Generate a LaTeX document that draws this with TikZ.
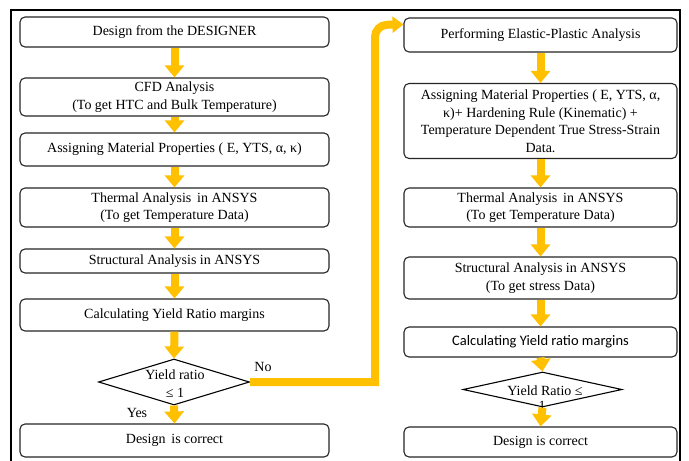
\documentclass[tikz,border=0pt]{standalone}
\usepackage{fontspec}
\setmainfont{Liberation Serif}
\newfontfamily\carlito{Carlito}
\usetikzlibrary{arrows.meta,shapes.geometric}
\definecolor{amber}{HTML}{FFC000}
\begin{document}
\begin{tikzpicture}[x=1pt,y=-1pt,
  box/.style={draw=black!85, line width=1.1pt, rounded corners=5pt, align=center,
    inner sep=0pt, font=\fontsize{14}{17.5}\selectfont},
  dec/.style={draw=black, line width=1.1pt, diamond, inner sep=0pt},
  flow/.style={amber, line width=8pt, -{Triangle[width=19pt,length=12pt]}},
  lbl/.style={inner sep=0pt, font=\fontsize{14}{17.5}\selectfont}]
\useasboundingbox (0,0) rectangle (689,461);
\fill[white] (0,0) rectangle (689,461);
\draw[line width=2pt] (11,461) -- (11,10) -- (680,10) -- (680,461);

% left column
\node[box, minimum width=309pt, minimum height=30pt] (L1) at (174.5,32) {Design from the DESIGNER};
\node[box, minimum width=309pt, minimum height=38pt] (L2) at (174.5,97) {CFD Analysis\\(To get HTC and Bulk Temperature)};
\node[box, minimum width=309pt, minimum height=33pt] (L3) at (174.5,149.5) {Assigning Material Properties ( E, YTS, α, κ)};
\node[box, minimum width=309pt, minimum height=39pt] (L4) at (174.5,207.5) {Thermal Analysis\, in ANSYS\\(To get Temperature Data)};
\node[box, minimum width=309pt, minimum height=24pt] (L5) at (174.5,261) {Structural Analysis in ANSYS};
\node[box, minimum width=309pt, minimum height=32pt] (L6) at (174.5,315) {Calculating Yield Ratio margins};
\node[dec, minimum width=151pt, minimum height=46pt] (LD) at (174,382) {};
\node[lbl] (LDa) at (175,375) {Yield ratio};
\node[lbl] (LDb) at (175,393) {≤ 1};
\node[box, minimum width=309pt, minimum height=33pt] (L7) at (174.5,440.5) {Design\, is correct};
\node[lbl] (yes) at (137,413) {Yes};
\node[lbl] (no) at (263,367) {No};

% right column
\node[box, minimum width=273pt, minimum height=34pt] (R1) at (540.5,35) {Performing Elastic-Plastic Analysis};
\node[box, minimum width=273pt, minimum height=75pt] (R2) at (540.5,121) {Assigning Material Properties ( E, YTS, α,\\κ)+ Hardening Rule (Kinematic) +\\Temperature Dependent True Stress-Strain\\Data.};
\node[box, minimum width=273pt, minimum height=39pt] (R3) at (540.5,207.5) {Thermal Analysis\, in ANSYS\\(To get Temperature Data)};
\node[box, minimum width=273pt, minimum height=42pt] (R4) at (540.5,278) {Structural Analysis in ANSYS\\(To get stress Data)};
\node[box, minimum width=273pt, minimum height=30pt, font=\carlito\fontsize{14.5}{17}\selectfont] (R5) at (540.5,342) {Calculating Yield ratio margins};
\node[dec, minimum width=159pt, minimum height=35pt] (RD) at (542.5,389.5) {};
\node[lbl] (RDa) at (545,391) {Yield Ratio ≤};
\node[lbl] (RDb) at (542,405.5) {1};
\node[box, minimum width=273pt, minimum height=30pt] (R6) at (540.5,442) {Design is correct};

% arrows
\draw[flow] (L1.south) -- (L2.north);
\draw[flow] (L2.south) -- (L3.north);
\draw[flow] (L3.south) -- (L4.north);
\draw[flow] (L4.south) -- (L5.north);
\draw[flow] (L5.south) -- (L6.north);
\draw[flow] (L6.south) -- (LD.north);
\draw[flow] (LD.south) -- (L7.north);

\draw[flow] (R1.south) -- (R2.north);
\draw[flow] (R2.south) -- (R3.north);
\draw[flow] (R3.south) -- (R4.north);
\draw[flow] (R4.south) -- (R5.north);
\draw[flow] (R5.south) -- (RD.north);
\draw[flow] (RD.south) -- (R6.north);

\coordinate (nb) at (375,382);
\coordinate (nt) at (375,25);
\draw[amber, line width=8pt, -{Triangle[width=16pt,length=11pt]}]
  (LD.east) -- (nb) [rounded corners=12pt] -- (nt) -- ([yshift=-7pt]R1.north west);
\end{tikzpicture}
\end{document}
